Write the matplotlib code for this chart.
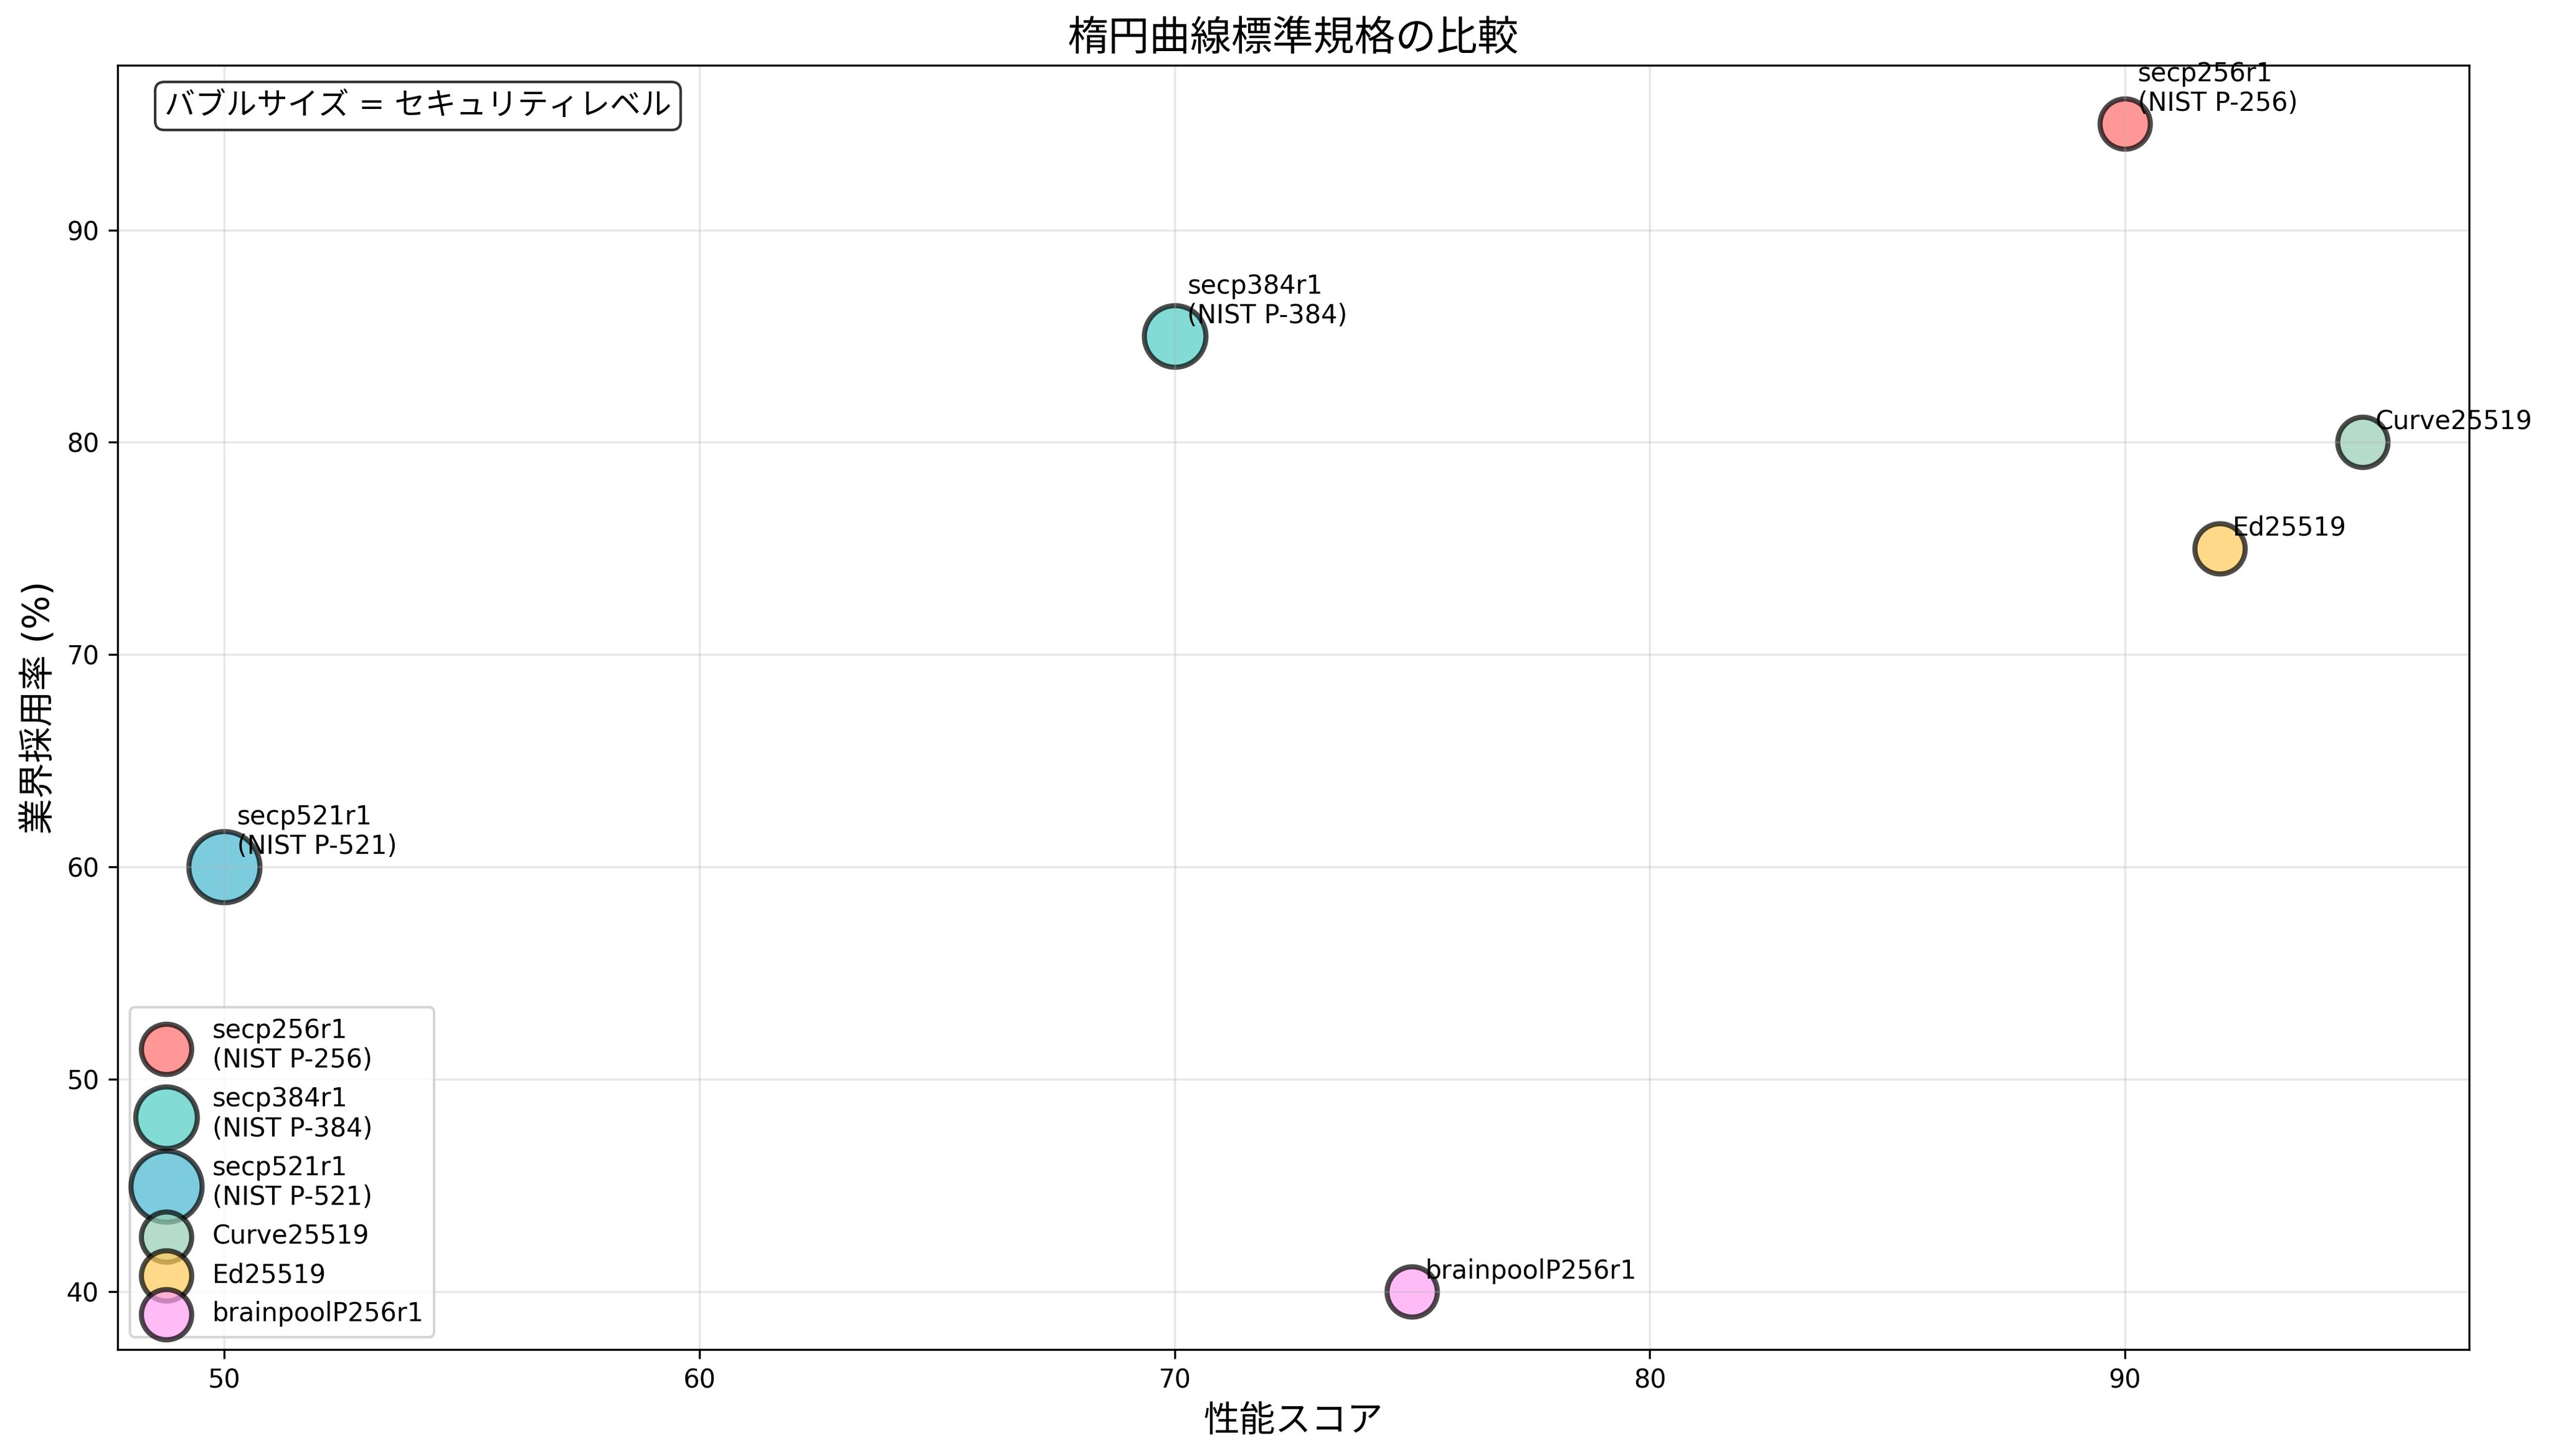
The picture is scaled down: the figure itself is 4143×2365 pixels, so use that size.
import matplotlib
matplotlib.use('Agg')
import matplotlib.pyplot as plt

plt.rcParams['font.family'] = ['DejaVu Sans', 'Noto Sans CJK JP']

names = ['secp256r1\n(NIST P-256)', 'secp384r1\n(NIST P-384)', 'secp521r1\n(NIST P-521)',
         'Curve25519', 'Ed25519', 'brainpoolP256r1']
performance = [90, 70, 50, 95, 92, 75]
adoption = [95, 85, 60, 80, 75, 40]
security = [128, 192, 256, 128, 128, 128]
colors = ['#FF6B6B', '#4ECDC4', '#45B7D1', '#96CEB4', '#FECA57', '#FF9FF3']

fig = plt.figure(figsize=(4143 / 300, 2365 / 300))
ax = fig.add_subplot(1, 1, 1)
fig.subplots_adjust(left=0.046, right=0.968, top=0.955, bottom=0.073)

for n, x, y, s, c in zip(names, performance, adoption, security, colors):
    ax.scatter(x, y, s=s * 3, c=c, alpha=0.7, edgecolors='black', linewidth=2, label=n)
    ax.annotate(n, (x, y), xytext=(5, 5), textcoords='offset points', fontsize=10)

ax.set_xlabel('性能スコア', fontsize=14)
ax.set_ylabel('業界採用率 (%)', fontsize=14)
ax.set_title('楕円曲線標準規格の比較', fontsize=16)
ax.grid(True, alpha=0.3)
ax.legend(loc='lower left', fontsize=10)
ax.text(0.02, 0.98, 'バブルサイズ = セキュリティレベル', transform=ax.transAxes, fontsize=12,
        va='top', bbox=dict(boxstyle='round', facecolor='white', alpha=0.8))

fig.savefig('out.png', dpi=300)
